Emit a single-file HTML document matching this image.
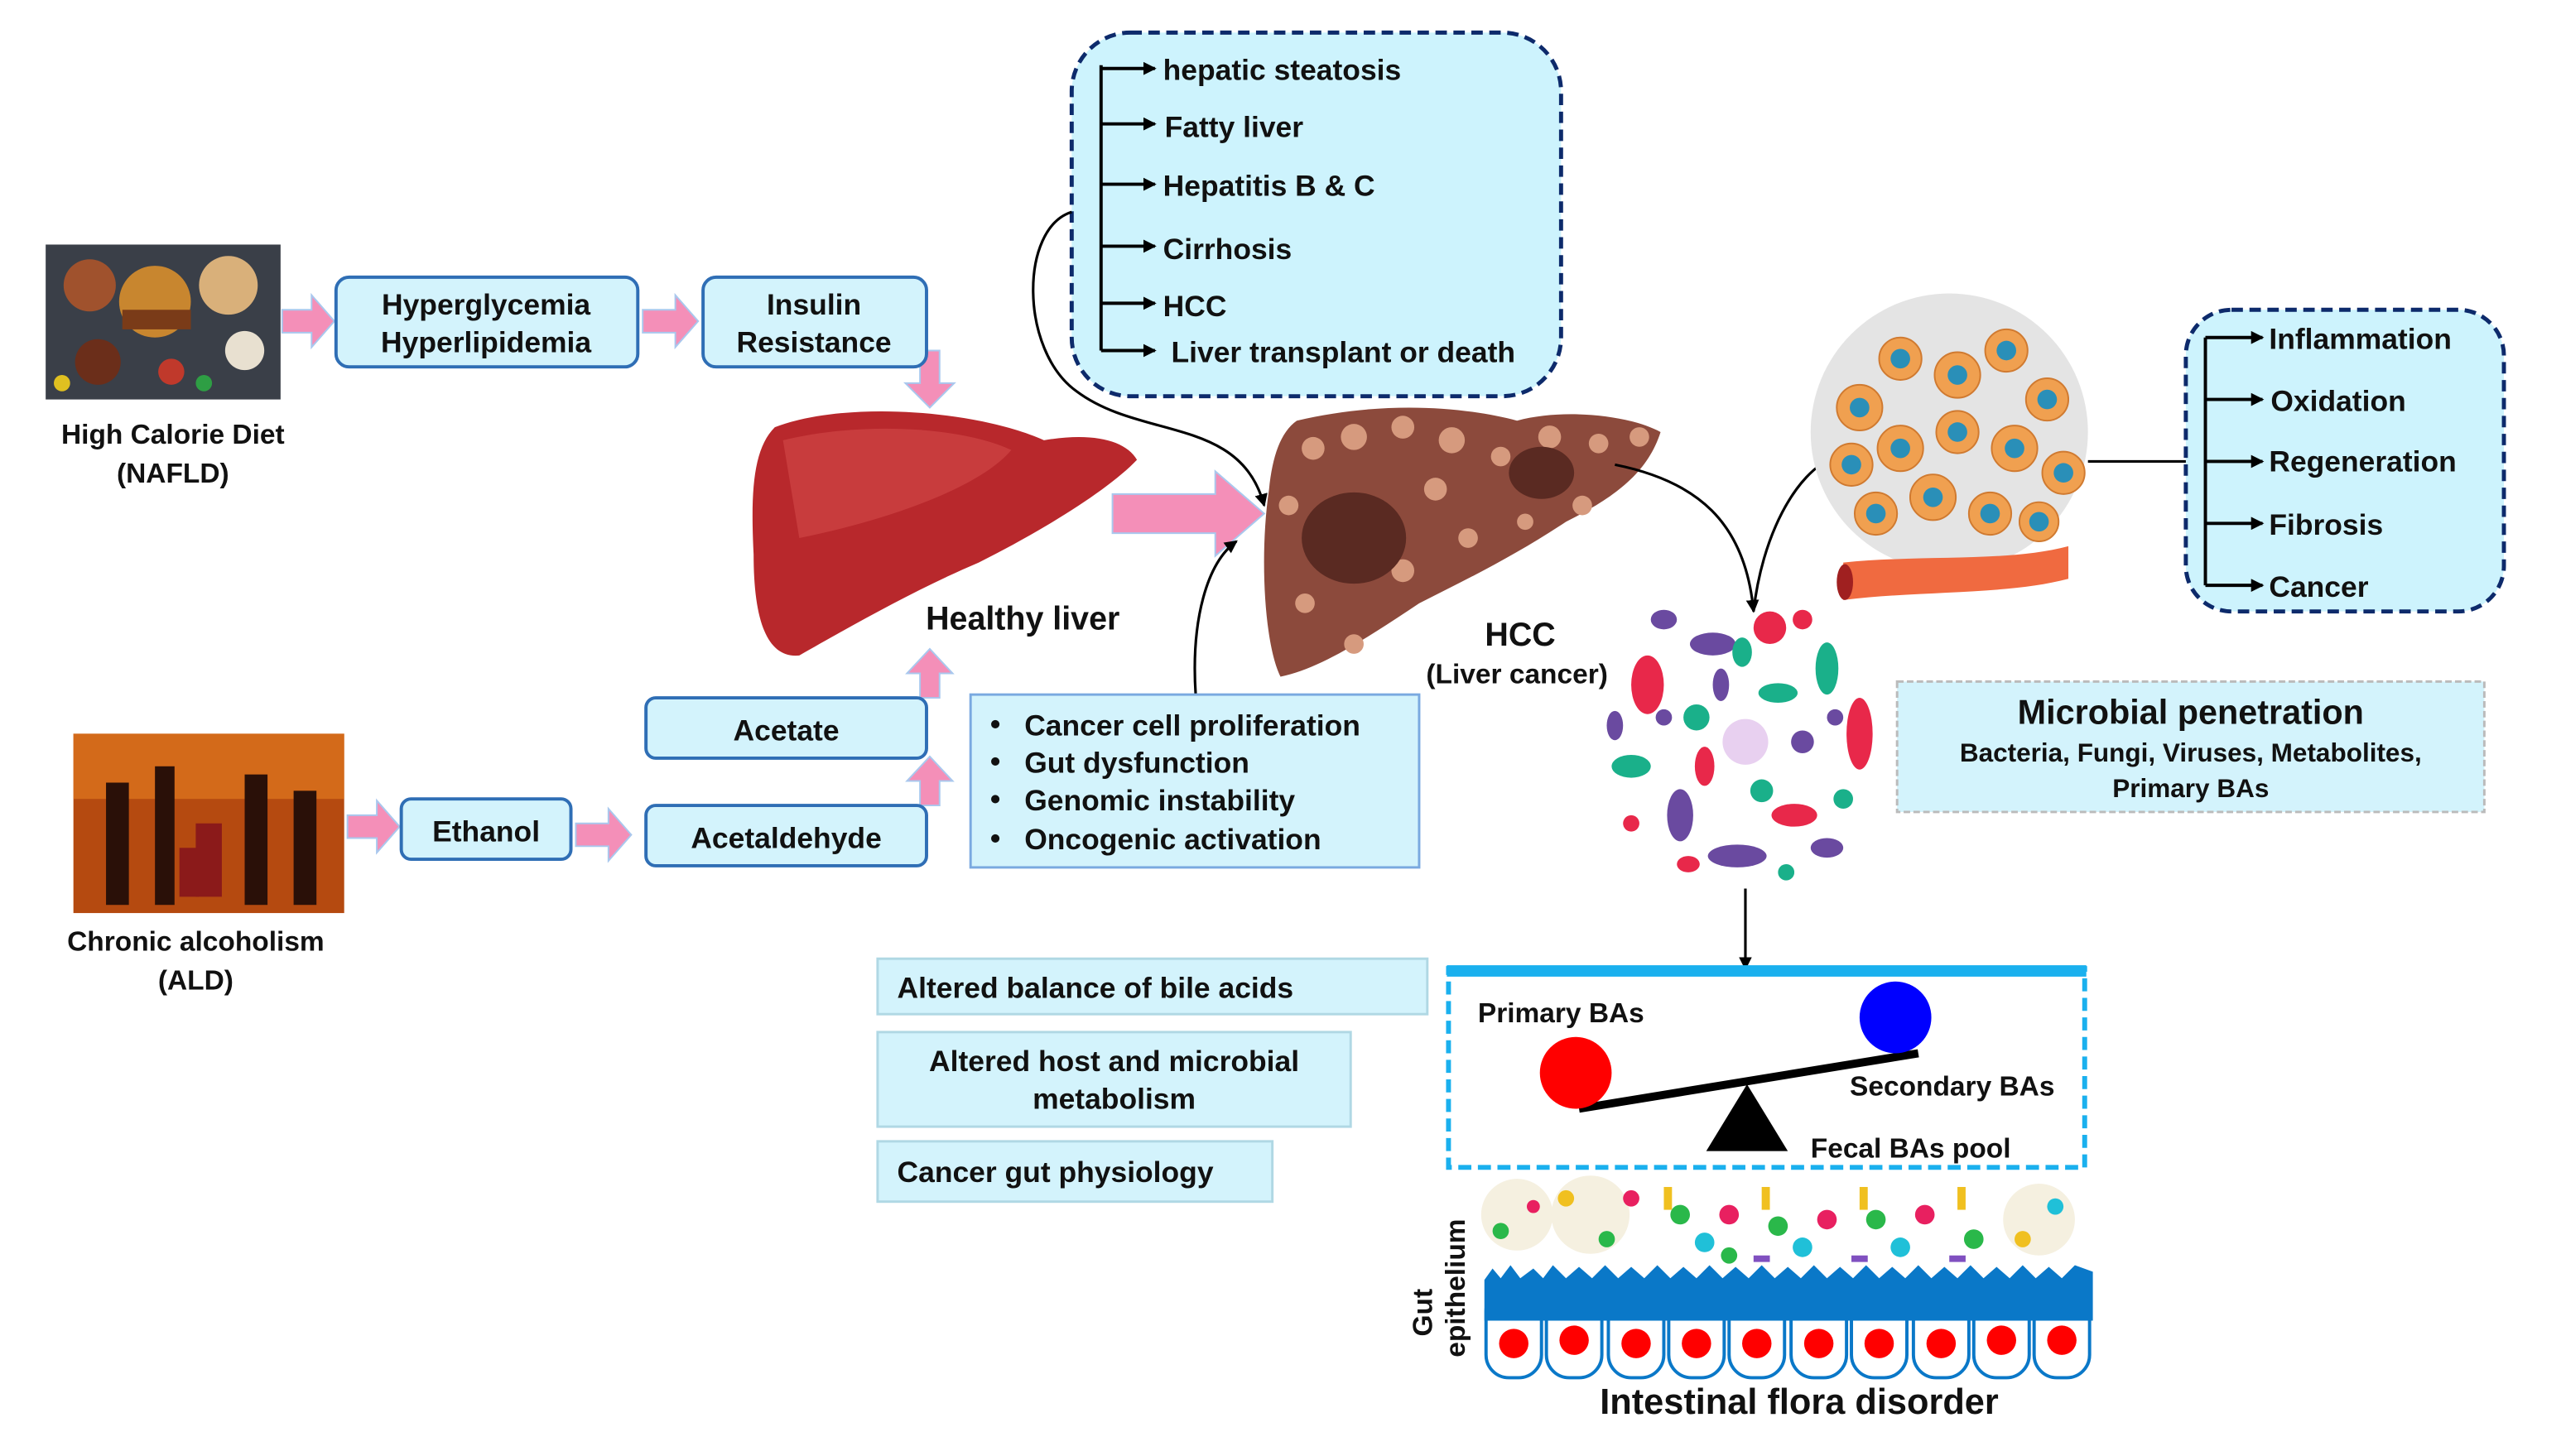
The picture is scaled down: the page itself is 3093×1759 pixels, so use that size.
<!DOCTYPE html>
<html><head><meta charset="utf-8"><style>
html,body{margin:0;padding:0;background:#fff}
svg{display:block}
text{font-family:"Liberation Sans",Arial,sans-serif;font-weight:bold;fill:#111}
</style></head><body>
<svg width="3093" height="1759" viewBox="0 0 1570 893" preserveAspectRatio="none" xmlns="http://www.w3.org/2000/svg">
<defs>
<marker id="ah" markerWidth="8" markerHeight="8" refX="7" refY="4" orient="auto" markerUnits="userSpaceOnUse"><path d="M0,0 L8,4 L0,8 z" fill="#000"/></marker>
</defs>
<rect width="1570" height="893" fill="#fff"/>

<!-- food image -->
<rect x="28" y="150" width="144" height="95" fill="#3a3f48"/>
<circle cx="55" cy="175" r="16" fill="#a0522d"/><circle cx="95" cy="185" r="22" fill="#c8862f"/><rect x="75" y="190" width="42" height="12" fill="#7a3b18"/>
<circle cx="140" cy="175" r="18" fill="#d9b07a"/><circle cx="150" cy="215" r="12" fill="#e8e0d0"/><circle cx="60" cy="222" r="14" fill="#6b2e1a"/>
<circle cx="105" cy="228" r="8" fill="#c0392b"/><circle cx="125" cy="235" r="5" fill="#2e9e44"/><circle cx="38" cy="235" r="5" fill="#e0c020"/>
<text x="106" y="272" font-size="17" text-anchor="middle">High Calorie Diet</text>
<text x="106" y="296" font-size="17" text-anchor="middle">(NAFLD)</text>

<!-- pink arrows -->
<g fill="#f48fb8" stroke="#a9c8ee" stroke-width="1">
<path d="M173,190 h18 v-9 l14,16 l-14,16 v-9 h-18z"/>
<path d="M394,190 h20 v-9 l14,16 l-14,16 v-9 h-20z"/>
<path d="M564,215 h12 v20 h9 l-15,15 l-15,-15 h9z"/>
<path d="M213,500 h18 v-9 l14,16 l-14,16 v-9 h-18z"/>
<path d="M353,505 h20 v-9 l14,16 l-14,16 v-9 h-20z"/>
<path d="M564,494 h12 v-15 h8 l-14,-15 l-14,15 h8z"/>
<path d="M564,428 h12 v-15 h8 l-14,-15 l-14,15 h8z"/>
<path d="M682,303 h63 v-14 l30,26 l-30,26 v-14 h-63z"/>
</g>

<!-- top boxes -->
<g fill="#d3f3fc" stroke="#2f6eb5" stroke-width="2">
<rect x="206" y="170" width="185" height="55" rx="8"/>
<rect x="431" y="170" width="137" height="55" rx="8"/>
<rect x="246" y="490" width="104" height="37" rx="6"/>
<rect x="396" y="494" width="172" height="37" rx="6"/>
<rect x="396" y="428" width="172" height="37" rx="6"/>
</g>
<text x="298" y="193" font-size="18" text-anchor="middle">Hyperglycemia</text>
<text x="298" y="216" font-size="18" text-anchor="middle">Hyperlipidemia</text>
<text x="499" y="193" font-size="18" text-anchor="middle">Insulin</text>
<text x="499" y="216" font-size="18" text-anchor="middle">Resistance</text>
<text x="298" y="516" font-size="18" text-anchor="middle">Ethanol</text>
<text x="482" y="520" font-size="18" text-anchor="middle">Acetaldehyde</text>
<text x="482" y="454" font-size="18" text-anchor="middle">Acetate</text>

<!-- healthy liver -->
<path d="M475,262 C520,245 600,252 640,270 C670,265 690,270 697,282 C680,300 640,325 600,345 C560,362 520,385 490,402 C470,404 462,380 462,340 C460,300 462,275 475,262z" fill="#b8282c"/>
<path d="M480,270 C530,258 590,262 620,276 C600,300 540,320 490,330z" fill="#d24a4a" opacity="0.6"/>
<text x="627" y="386" font-size="20" text-anchor="middle">Healthy liver</text>

<!-- HCC liver -->
<path d="M795,258 C850,245 900,250 930,258 C960,250 1000,255 1018,265 C1010,290 990,305 960,320 C930,340 900,355 870,370 C840,390 810,410 785,415 C775,395 772,340 778,300 C780,280 785,265 795,258z" fill="#8c4a3c"/>
<g fill="#d69a7e">
<circle cx="805" cy="275" r="7"/><circle cx="830" cy="268" r="8"/><circle cx="860" cy="262" r="7"/><circle cx="890" cy="270" r="8"/><circle cx="920" cy="280" r="6"/><circle cx="950" cy="268" r="7"/><circle cx="980" cy="272" r="6"/><circle cx="1005" cy="268" r="6"/>
<circle cx="790" cy="310" r="6"/><circle cx="880" cy="300" r="7"/><circle cx="900" cy="330" r="6"/><circle cx="860" cy="350" r="7"/><circle cx="800" cy="370" r="6"/><circle cx="830" cy="395" r="6"/><circle cx="970" cy="310" r="6"/><circle cx="935" cy="320" r="5"/>
</g>
<ellipse cx="830" cy="330" rx="32" ry="28" fill="#5a2a22"/><ellipse cx="945" cy="290" rx="20" ry="16" fill="#5a2a22"/>
<text x="932" y="396" font-size="20" text-anchor="middle">HCC</text>
<text x="930" y="419" font-size="17" text-anchor="middle">(Liver cancer)</text>

<!-- top dashed box -->
<rect x="657" y="20" width="300" height="223" rx="36" fill="#cdf3fd" stroke="#0d2a6b" stroke-width="2.5" stroke-dasharray="7,4"/>
<g stroke="#000" stroke-width="2" fill="none">
<line x1="675" y1="40" x2="675" y2="215"/>
<line x1="675" y1="42" x2="708" y2="42" marker-end="url(#ah)"/>
<line x1="675" y1="76" x2="708" y2="76" marker-end="url(#ah)"/>
<line x1="675" y1="113" x2="708" y2="113" marker-end="url(#ah)"/>
<line x1="675" y1="151" x2="708" y2="151" marker-end="url(#ah)"/>
<line x1="675" y1="186" x2="708" y2="186" marker-end="url(#ah)"/>
<line x1="675" y1="215" x2="708" y2="215" marker-end="url(#ah)"/>
</g>
<g font-size="18">
<text x="713" y="49">hepatic steatosis</text>
<text x="714" y="84">Fatty liver</text>
<text x="713" y="120">Hepatitis B &amp; C</text>
<text x="713" y="159">Cirrhosis</text>
<text x="713" y="194">HCC</text>
<text x="718" y="222">Liver transplant or death</text>
</g>

<!-- connectors -->
<g stroke="#000" stroke-width="1.6" fill="none">
<path d="M657,130 C625,140 625,215 660,240 C700,270 760,255 775,310" marker-end="url(#ah)"/>
<path d="M733,426 C730,380 740,345 758,332" marker-end="url(#ah)"/>
<path d="M990,285 C1040,295 1070,320 1075,375" marker-end="url(#ah)"/>
<path d="M1075,375 C1080,330 1100,290 1125,280"/>
<line x1="1280" y1="283" x2="1350" y2="283" marker-end="url(#ah)"/>
<line x1="1070" y1="545" x2="1070" y2="594" marker-end="url(#ah)"/>
</g>

<!-- alcohol image -->
<rect x="45" y="450" width="166" height="110" fill="#b54a10"/>
<rect x="45" y="450" width="166" height="40" fill="#e07820" opacity="0.7"/>
<g fill="#2a1008"><rect x="65" y="480" width="14" height="75"/><rect x="95" y="470" width="12" height="85"/><rect x="150" y="475" width="14" height="80"/><rect x="180" y="485" width="14" height="70"/></g>
<g fill="#8b1a1a"><rect x="120" y="505" width="16" height="45"/><rect x="110" y="520" width="12" height="30"/></g>
<text x="120" y="583" font-size="17" text-anchor="middle">Chronic alcoholism</text>
<text x="120" y="607" font-size="17" text-anchor="middle">(ALD)</text>

<!-- bullet box -->
<rect x="595" y="426" width="275" height="106" fill="#d3f3fc" stroke="#7aa9e0" stroke-width="1.5"/>
<g font-size="18">
<text x="607" y="450">•</text><text x="628" y="451">Cancer cell proliferation</text>
<text x="607" y="473">•</text><text x="628" y="474">Gut dysfunction</text>
<text x="607" y="496">•</text><text x="628" y="497">Genomic instability</text>
<text x="607" y="520">•</text><text x="628" y="521">Oncogenic activation</text>
</g>

<!-- cells image -->
<circle cx="1195" cy="265" r="85" fill="#e4e4e4"/>
<g fill="#f0a050" stroke="#d07a30" stroke-width="1">
<circle cx="1140" cy="250" r="14"/><circle cx="1165" cy="220" r="13"/><circle cx="1200" cy="230" r="14"/><circle cx="1230" cy="215" r="13"/><circle cx="1255" cy="245" r="13"/><circle cx="1135" cy="285" r="13"/><circle cx="1165" cy="275" r="14"/><circle cx="1200" cy="265" r="13"/><circle cx="1235" cy="275" r="14"/><circle cx="1265" cy="290" r="13"/><circle cx="1150" cy="315" r="13"/><circle cx="1185" cy="305" r="14"/><circle cx="1220" cy="315" r="13"/><circle cx="1250" cy="320" r="12"/>
</g>
<g fill="#2a8fb8"><circle cx="1140" cy="250" r="6"/><circle cx="1165" cy="220" r="6"/><circle cx="1200" cy="230" r="6"/><circle cx="1230" cy="215" r="6"/><circle cx="1255" cy="245" r="6"/><circle cx="1135" cy="285" r="6"/><circle cx="1165" cy="275" r="6"/><circle cx="1200" cy="265" r="6"/><circle cx="1235" cy="275" r="6"/><circle cx="1265" cy="290" r="6"/><circle cx="1150" cy="315" r="6"/><circle cx="1185" cy="305" r="6"/><circle cx="1220" cy="315" r="6"/><circle cx="1250" cy="320" r="6"/></g>
<path d="M1130,345 C1180,340 1230,345 1268,335 L1268,355 C1230,365 1180,362 1130,368z" fill="#f06a40"/>
<ellipse cx="1131" cy="357" rx="5" ry="11" fill="#a02020"/>

<!-- right dashed box -->
<rect x="1340" y="190" width="195" height="185" rx="28" fill="#cdf3fd" stroke="#0d2a6b" stroke-width="2.5" stroke-dasharray="7,4"/>
<g stroke="#000" stroke-width="2" fill="none">
<line x1="1352" y1="207" x2="1352" y2="359"/>
<line x1="1352" y1="207" x2="1387" y2="207" marker-end="url(#ah)"/>
<line x1="1352" y1="245" x2="1387" y2="245" marker-end="url(#ah)"/>
<line x1="1352" y1="283" x2="1387" y2="283" marker-end="url(#ah)"/>
<line x1="1352" y1="321" x2="1387" y2="321" marker-end="url(#ah)"/>
<line x1="1352" y1="359" x2="1387" y2="359" marker-end="url(#ah)"/>
</g>
<g font-size="18">
<text x="1391" y="214">Inflammation</text>
<text x="1392" y="252">Oxidation</text>
<text x="1391" y="289">Regeneration</text>
<text x="1391" y="328">Fibrosis</text>
<text x="1391" y="366">Cancer</text>
</g>

<!-- microbe circle -->
<g>
<ellipse cx="1010" cy="420" rx="10" ry="18" fill="#e8284a"/><ellipse cx="1050" cy="395" rx="14" ry="7" fill="#6a4aa0"/><circle cx="1085" cy="385" r="10" fill="#e8284a"/><ellipse cx="1120" cy="410" rx="7" ry="16" fill="#1ab08a"/><ellipse cx="1140" cy="450" rx="8" ry="22" fill="#e8284a"/><ellipse cx="1000" cy="470" rx="12" ry="7" fill="#1ab08a"/><ellipse cx="1030" cy="500" rx="8" ry="16" fill="#6a4aa0"/><circle cx="1070" cy="455" r="14" fill="#e8d0f0"/><ellipse cx="1100" cy="500" rx="14" ry="7" fill="#e8284a"/><ellipse cx="1065" cy="525" rx="18" ry="7" fill="#6a4aa0"/><circle cx="1040" cy="440" r="8" fill="#1ab08a"/><circle cx="1105" cy="455" r="7" fill="#6a4aa0"/><ellipse cx="1020" cy="380" rx="8" ry="6" fill="#6a4aa0"/><circle cx="1130" cy="490" r="6" fill="#1ab08a"/><circle cx="1000" cy="505" r="5" fill="#e8284a"/>
<ellipse cx="1045" cy="470" rx="6" ry="12" fill="#e8284a"/><ellipse cx="1090" cy="425" rx="12" ry="6" fill="#1ab08a"/><ellipse cx="1055" cy="420" rx="5" ry="10" fill="#6a4aa0"/><circle cx="1080" cy="485" r="7" fill="#1ab08a"/><ellipse cx="1120" cy="520" rx="10" ry="6" fill="#6a4aa0"/><circle cx="1020" cy="440" r="5" fill="#6a4aa0"/><circle cx="1105" cy="380" r="6" fill="#e8284a"/><ellipse cx="1035" cy="530" rx="7" ry="5" fill="#e8284a"/><circle cx="1095" cy="535" r="5" fill="#1ab08a"/><ellipse cx="990" cy="445" rx="5" ry="9" fill="#6a4aa0"/><circle cx="1125" cy="440" r="5" fill="#6a4aa0"/><ellipse cx="1068" cy="400" rx="6" ry="9" fill="#1ab08a"/>
</g>

<!-- microbial penetration box -->
<rect x="1163" y="418" width="360" height="80" fill="#d3f3fc" stroke="#bbbbbb" stroke-width="1.5" stroke-dasharray="4,2"/>
<text x="1343" y="444" font-size="21" text-anchor="middle">Microbial penetration</text>
<text x="1343" y="467" font-size="16" text-anchor="middle">Bacteria, Fungi, Viruses, Metabolites,</text>
<text x="1343" y="489" font-size="16" text-anchor="middle">Primary BAs</text>

<!-- left boxes -->
<g fill="#d3f3fc" stroke="#b0d8e4" stroke-width="1.5">
<rect x="538" y="588" width="337" height="34"/>
<rect x="538" y="633" width="290" height="58"/>
<rect x="538" y="700" width="242" height="37"/>
</g>
<g font-size="18">
<text x="550" y="612">Altered balance of bile acids</text>
<text x="683" y="657" text-anchor="middle">Altered host and microbial</text>
<text x="683" y="680" text-anchor="middle">metabolism</text>
<text x="550" y="725">Cancer gut physiology</text>
</g>

<!-- BA box -->
<rect x="888" y="594" width="390" height="122" fill="#fff" stroke="#1ab0ee" stroke-width="3" stroke-dasharray="8,4"/>
<rect x="887" y="592" width="392" height="7" fill="#1ab0ee"/>
<text x="906" y="627" font-size="17">Primary BAs</text>
<text x="1134" y="672" font-size="17">Secondary BAs</text>
<text x="1110" y="710" font-size="17">Fecal BAs pool</text>
<line x1="968" y1="680" x2="1176" y2="646" stroke="#000" stroke-width="5"/>
<ellipse cx="966" cy="658" rx="22" ry="22" fill="#f00"/>
<ellipse cx="1162" cy="624" rx="22" ry="22" fill="#00f"/>
<path d="M1071,665 L1096,706 L1046,706z" fill="#000"/>

<!-- gut epithelium -->
<g>
<circle cx="930" cy="745" r="22" fill="#f5f0e0"/><circle cx="975" cy="745" r="24" fill="#f5f0e0"/><circle cx="1250" cy="748" r="22" fill="#f5f0e0"/>
<g fill="#2ab84a"><circle cx="1030" cy="745" r="6"/><circle cx="1090" cy="752" r="6"/><circle cx="1150" cy="748" r="6"/><circle cx="1210" cy="760" r="6"/><circle cx="1060" cy="770" r="5"/><circle cx="920" cy="755" r="5"/><circle cx="985" cy="760" r="5"/></g>
<g fill="#e82060"><circle cx="1060" cy="745" r="6"/><circle cx="1120" cy="748" r="6"/><circle cx="1180" cy="745" r="6"/><circle cx="940" cy="740" r="4"/><circle cx="1000" cy="735" r="5"/></g>
<g fill="#20c0d8"><circle cx="1045" cy="762" r="6"/><circle cx="1105" cy="765" r="6"/><circle cx="1165" cy="765" r="6"/><circle cx="1260" cy="740" r="5"/></g>
<g fill="#f0c020"><rect x="1020" y="728" width="5" height="14"/><rect x="1080" y="728" width="5" height="14"/><rect x="1140" y="728" width="5" height="14"/><rect x="1200" y="728" width="5" height="14"/><circle cx="960" cy="735" r="5"/><circle cx="1240" cy="760" r="5"/></g>
<g fill="#8050c0"><rect x="1075" y="770" width="10" height="4"/><rect x="1135" y="770" width="10" height="4"/><rect x="1195" y="770" width="10" height="4"/></g>
</g>
<g>
<g fill="#fff" stroke="#0a78c8" stroke-width="2">
<rect x="911" y="790" width="34" height="55" rx="14"/><rect x="948" y="790" width="34" height="55" rx="14"/><rect x="986" y="790" width="34" height="55" rx="14"/><rect x="1023" y="790" width="34" height="55" rx="14"/><rect x="1060" y="790" width="34" height="55" rx="14"/><rect x="1098" y="790" width="34" height="55" rx="14"/><rect x="1135" y="790" width="34" height="55" rx="14"/><rect x="1173" y="790" width="34" height="55" rx="14"/><rect x="1210" y="790" width="34" height="55" rx="14"/><rect x="1247" y="790" width="34" height="55" rx="14"/>
</g>
<path d="M910,785 L915,778 L920,784 L926,776 L932,784 L940,778 L946,784 L952,776 L960,784 L968,777 L976,784 L984,776 L992,784 L1000,777 L1008,784 L1016,776 L1024,784 L1032,777 L1040,784 L1048,776 L1056,784 L1064,777 L1072,784 L1080,776 L1088,784 L1096,777 L1104,784 L1112,776 L1120,784 L1128,777 L1136,784 L1144,776 L1152,784 L1160,777 L1168,784 L1176,776 L1184,784 L1192,777 L1200,784 L1208,776 L1216,784 L1224,777 L1232,784 L1240,776 L1248,784 L1256,777 L1264,784 L1272,776 L1283,780 L1283,810 L910,810z" fill="#0a78c8"/>
<g fill="#f00">
<circle cx="928" cy="824" r="9"/><circle cx="965" cy="822" r="9"/><circle cx="1003" cy="824" r="9"/><circle cx="1040" cy="824" r="9"/><circle cx="1077" cy="824" r="9"/><circle cx="1115" cy="824" r="9"/><circle cx="1152" cy="824" r="9"/><circle cx="1190" cy="824" r="9"/><circle cx="1227" cy="822" r="9"/><circle cx="1264" cy="822" r="9"/>
</g>
</g>
<text transform="translate(878,805) rotate(-90)" font-size="17" text-anchor="middle">Gut</text>
<text transform="translate(898,790) rotate(-90)" font-size="17" text-anchor="middle">epithelium</text>
<text x="1103" y="867" font-size="22" text-anchor="middle">Intestinal flora disorder</text>
</svg>
</body></html>
